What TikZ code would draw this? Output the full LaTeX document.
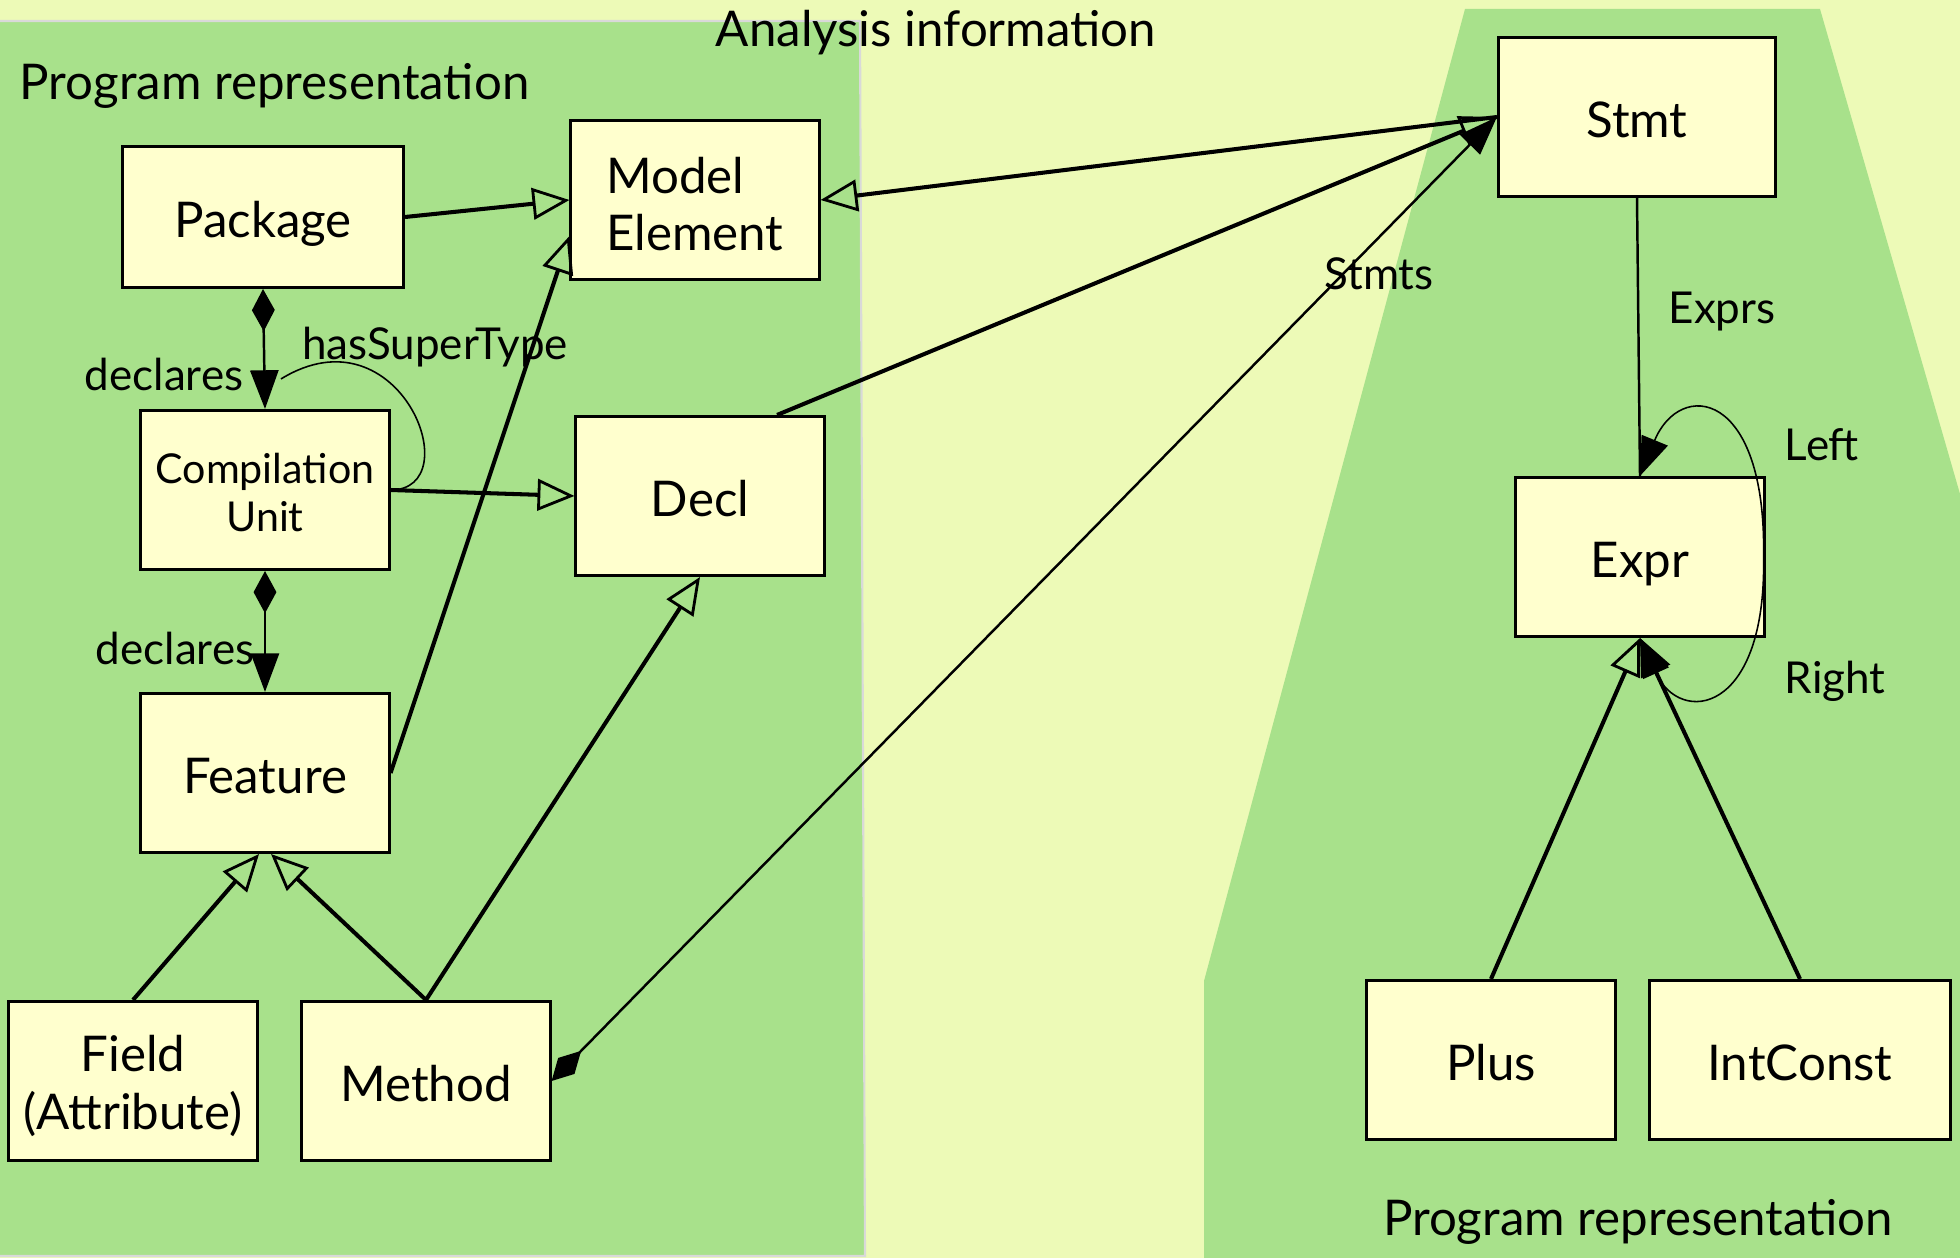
\documentclass[tikz,border=0pt]{standalone}
\usepackage{fontspec}
\setmainfont{Lato}
\usepackage{tikz}
\usetikzlibrary{arrows.meta}
\definecolor{paleback}{RGB}{237,250,183}
\definecolor{panelgreen}{RGB}{168,225,139}
\definecolor{boxfill}{RGB}{255,255,206}

\begin{document}
\begin{tikzpicture}
	[x=0.01cm, y=-0.01cm,
	cls/.style={draw, line width=0.85pt, fill=boxfill, minimum width=2.48cm, minimum height=1.59cm, inner sep=0pt, align=center, text height=12.4pt, text depth=1pt, font=\fontsize{14}{16.3}\selectfont},
	lbl/.style={inner sep=0pt, anchor=base, font=\fontsize{12.5}{15}\selectfont},
	heading/.style={inner sep=0pt, anchor=base, font=\fontsize{14}{17}\selectfont},
	isa/.style={line width=1.15pt, -{Triangle[open, length=10.5pt, width=9pt, line width=0.8pt]}},
	owns/.style={line width=0.7pt, {Diamond[length=12pt, width=6.5pt]}-{Triangle[length=11pt, width=8pt]}},
	selfref/.style={line width=0.45pt}]
	\useasboundingbox (0,0) rectangle (1960,1258);
	\fill[paleback] (0,0) rectangle (1960,1258);
	\filldraw[fill=panelgreen, draw=black!15, line width=0.6pt] (-5,21) -- (860,21) -- (865,1256) -- (-5,1256) -- cycle;
	\fill[panelgreen] (1465,9) -- (1820,9) -- (1960,494) -- (1960,1258) -- (1204,1258) -- (1204,981) -- cycle;

	\node[heading] (analysis) at (936,47) {Analysis information};
	\node[heading, anchor=base west] (progleft) at (19,100) {Program representation};
	\node[heading] (progright) at (1638,1235) {Program representation};

	\node[cls, minimum width=2.81cm, minimum height=1.41cm] (package) at (263,217) {Package};
	\node[cls, align=left, text height=30pt] (modelel) at (695,200) {Model\\Element};
	\node[cls, text height=24.5pt, font=\fontsize{11.7}{13.5}\selectfont] (compunit) at (265,490) {Compilation\\Unit};
	\node[cls] (decl) at (700,496) {Decl};
	\node[cls] (feature) at (265,773) {Feature};
	\node[cls, text height=28.3pt] (field) at (133,1081) {Field\\(Attribute)};
	\node[cls] (method) at (426,1081) {Method};
	\node[cls, minimum width=2.77cm, minimum height=1.58cm] (stmt) at (1637,117) {Stmt};
	\node[cls] (expr) at (1640,557) {Expr};
	\node[cls] (plus) at (1491,1060) {Plus};
	\node[cls, minimum width=3cm] (intconst) at (1800,1060) {IntConst};

	\draw[isa] (package.east) -- (modelel.west);
	\draw[isa] (feature.east) -- ([yshift=-0.36cm]modelel.west);
	\draw[isa] (compunit.east) -- (decl.west);
	\draw[isa] (field.north) -- ([xshift=-0.06cm]feature.south);
	\draw[isa] (method.north) -- ([xshift=0.06cm]feature.south);
	\draw[isa] (method.north) -- (decl.south);
	\draw[isa] (stmt.west) -- (modelel.east);
	\draw[isa] ([xshift=0.77cm]decl.north) -- (stmt.west);
	\draw[isa] (plus.north) -- (expr.south);
	\draw[isa] (intconst.north) -- (expr.south);
	\draw[owns] (package.south) -- (compunit.north);
	\draw[owns] (compunit.south) -- (feature.north);
	\draw[owns] (method.east) -- (stmt.west);
	\draw[line width=0.7pt] (stmt.south) -- (expr.north);
	\draw[selfref] (compunit.east) .. controls +(80,0) and +(119,-73) .. ([xshift=0.16cm, yshift=0.3cm]compunit.north);
	\draw[selfref, -{Triangle[length=11pt, width=8pt]}] ([xshift=-0.02cm]expr.east) .. controls +(3,-168) and +(40,-97) .. (expr.north);
	\draw[selfref, -{Triangle[length=11pt, width=8pt]}] ([xshift=-0.02cm]expr.east) .. controls +(3,158) and +(40,88) .. (expr.south);

	\node[lbl, anchor=base east] (declares1) at (244,391) {declares};
	\node[lbl, anchor=base east] (declares2) at (255,665) {declares};
	\node[lbl] (supertype) at (435,360) {hasSuperType};
	\node[lbl] (stmtslbl) at (1379,290) {Stmts};
	\node[lbl] (exprslbl) at (1722,324) {Exprs};
	\node[lbl] (leftlbl) at (1822,461) {Left};
	\node[lbl] (rightlbl) at (1835,693) {Right};
\end{tikzpicture}
\end{document}
